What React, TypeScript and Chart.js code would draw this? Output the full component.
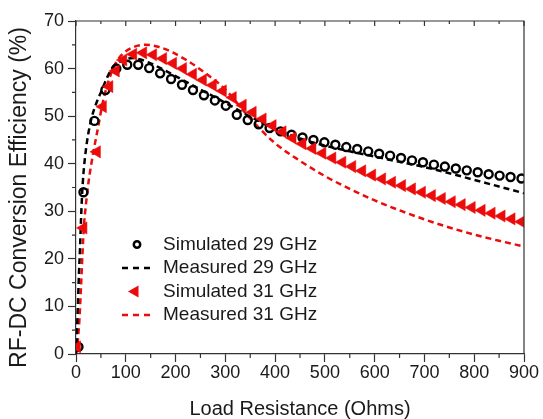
import React, { useEffect, useRef } from 'react';
import { Chart, registerables } from 'chart.js';

Chart.register(...registerables);

// ---- data ----
const sim29X = [5, 15, 37, 59, 81, 103, 125, 147, 169, 191, 213, 235, 257, 279, 301, 323, 345, 367, 389, 411, 433, 455, 477, 499, 521, 543, 565, 587, 609, 631, 653, 675, 697, 719, 741, 763, 785, 807, 829, 851, 873, 895];
const sim29Y = [1.5, 34, 49, 55.5, 60, 60.8, 60.8, 60.1, 59, 57.8, 56.6, 55.5, 54.4, 53.3, 52.2, 50.3, 49.2, 48.3, 47.5, 46.8, 46.1, 45.5, 45, 44.5, 44, 43.5, 43.1, 42.6, 42.1, 41.7, 41.2, 40.7, 40.3, 39.8, 39.4, 39, 38.6, 38.2, 37.8, 37.5, 37.2, 36.9];

const meas29X = [0, 2, 4, 6, 8, 10, 12, 15, 20, 25, 31, 40, 52, 62, 72, 85, 100, 115, 130, 150, 175, 200, 250, 300, 350, 400, 450, 500, 550, 600, 650, 700, 750, 800, 850, 900];
const meas29Y = [0, 5, 11, 17, 22, 28, 33, 38, 43, 46.5, 49.5, 52.5, 55.5, 58, 60, 61.2, 62, 62.2, 61.9, 61.1, 59.8, 58.4, 55.6, 52.8, 49.9, 47.3, 45.3, 43.8, 42.6, 41.5, 40.4, 39.3, 38, 36.6, 35.2, 33.8];

const sim31X = [2, 15, 42, 54, 67, 80, 95, 115, 135, 155, 175, 195, 215, 235, 255, 275, 295, 315, 335, 355, 375, 395, 415, 435, 455, 475, 495, 515, 535, 555, 575, 595, 615, 635, 655, 675, 695, 715, 735, 755, 775, 795, 815, 835, 855, 875, 895];
const sim31Y = [1.5, 26.5, 42.5, 52, 56.2, 59.5, 61.8, 63, 63.3, 62.9, 62.1, 61.1, 60, 58.8, 57.6, 56.5, 55.3, 53.9, 52.3, 50.8, 49.4, 48, 46.7, 45.4, 44.2, 43.2, 42.2, 41.2, 40.3, 39.4, 38.5, 37.6, 36.8, 36.1, 35.4, 34.7, 34, 33.3, 32.7, 32, 31.4, 30.8, 30.2, 29.6, 29, 28.4, 27.8];

const meas31X = [0, 3, 5, 7, 10, 13, 16, 20, 25, 35, 45, 52, 60, 70, 80, 95, 115, 140, 165, 190, 220, 250, 300, 350, 400, 450, 500, 550, 600, 650, 700, 750, 800, 850, 900];
const meas31Y = [0, 2, 4.5, 7.5, 14, 21, 27, 31.5, 36, 42.5, 48, 52, 55.5, 58.8, 61.2, 63.2, 64.5, 65, 64.6, 63.6, 61.9, 59.8, 55.6, 49.5, 44.3, 40.6, 37.4, 34.7, 32.3, 30.2, 28.3, 26.6, 25.1, 23.8, 22.6];

const xTickValues = [0, 100, 200, 300, 400, 500, 600, 700, 800, 900];
const yTickValues = [0, 10, 20, 30, 40, 50, 60, 70];
const legendLabels = ['Simulated 29 GHz', 'Measured 29 GHz', 'Simulated 31 GHz', 'Measured 31 GHz'];
const xTitle = 'Load Resistance (Ohms)';
const yTitle = 'RF-DC Conversion Efficiency (%)';

const RED = '#ec0b0b';
const BLACK = '#000000';
const AXIS = '#333333';
const FONT = '"Liberation Sans", Arial, sans-serif';

const toPts = (xs: number[], ys: number[]) => xs.map((x, i) => ({ x, y: ys[i] }));

const framePlugin = {
  id: 'frame',
  afterDraw(chart: any) {
    const { ctx, chartArea: a, scales } = chart;
    const xs = scales.x;
    const ys = scales.y;
    ctx.save();
    ctx.strokeStyle = AXIS;
    ctx.lineWidth = 1.2;
    ctx.beginPath();
    ctx.moveTo(a.left, a.top);
    ctx.lineTo(a.right, a.top);
    ctx.lineTo(a.right, a.bottom);
    ctx.stroke();
    ctx.beginPath();
    for (let v = 0; v <= 900; v += 50) {
      const px = xs.getPixelForValue(v);
      if (v % 100 !== 0) {
        ctx.moveTo(px, a.bottom);
        ctx.lineTo(px, a.bottom + 4);
      }
      ctx.moveTo(px, a.top);
      ctx.lineTo(px, a.top + (v % 100 === 0 ? 5 : 3));
    }
    for (let v = 5; v < 70; v += 10) {
      const py = ys.getPixelForValue(v);
      ctx.moveTo(a.left, py);
      ctx.lineTo(a.left - 4, py);
    }
    ctx.stroke();

    ctx.fillStyle = '#1a1a1a';
    ctx.font = `23px ${FONT}`;
    ctx.textAlign = 'center';
    ctx.textBaseline = 'middle';
    ctx.translate(20, 197.5);
    ctx.rotate(-Math.PI / 2);
    ctx.fillText(yTitle, 0, 0);
    ctx.restore();

    ctx.save();
    const rows = [244.5, 268, 291.5, 315];
    const mx = 137;
    ctx.font = `19px ${FONT}`;
    ctx.textAlign = 'left';
    ctx.textBaseline = 'middle';
    ctx.fillStyle = '#1a1a1a';
    legendLabels.forEach((t, i) => ctx.fillText(t, 163, rows[i]));
    ctx.strokeStyle = BLACK;
    ctx.lineWidth = 2.5;
    ctx.beginPath();
    ctx.arc(mx, rows[0], 3.2, 0, Math.PI * 2);
    ctx.stroke();
    ctx.setLineDash([6, 5]);
    ctx.lineWidth = 2.5;
    ctx.beginPath();
    ctx.moveTo(122, rows[1]);
    ctx.lineTo(151, rows[1]);
    ctx.stroke();
    ctx.strokeStyle = RED;
    ctx.beginPath();
    ctx.moveTo(122, rows[3]);
    ctx.lineTo(151, rows[3]);
    ctx.stroke();
    ctx.setLineDash([]);
    ctx.fillStyle = RED;
    ctx.beginPath();
    ctx.moveTo(128, rows[2]);
    ctx.lineTo(138.5, rows[2] - 6);
    ctx.lineTo(138.5, rows[2] + 6);
    ctx.closePath();
    ctx.fill();
    ctx.restore();
  },
};

export default function App() {
  const ref = useRef<HTMLCanvasElement | null>(null);
  useEffect(() => {
    document.body.style.margin = '0';
    if (!ref.current) return;
    const chart = new Chart(ref.current, {
      type: 'line',
      data: {
        datasets: [
          {
            label: legendLabels[2],
            data: toPts(sim31X, sim31Y),
            showLine: false,
            pointStyle: 'triangle',
            rotation: -90,
            pointRadius: 7,
            backgroundColor: RED,
            borderColor: RED,
            pointBorderWidth: 0.5,
          },
          {
            label: legendLabels[0],
            data: toPts(sim29X, sim29Y),
            showLine: false,
            pointStyle: 'circle',
            pointRadius: 4,
            pointBorderWidth: 2.4,
            backgroundColor: 'rgba(255,255,255,0)',
            borderColor: BLACK,
          },
          {
            label: legendLabels[1],
            data: toPts(meas29X, meas29Y),
            pointRadius: 0,
            borderColor: BLACK,
            borderWidth: 2.5,
            borderDash: [6, 4],
            cubicInterpolationMode: 'monotone',
            fill: false,
          },
          {
            label: legendLabels[3],
            data: toPts(meas31X, meas31Y),
            pointRadius: 0,
            borderColor: RED,
            borderWidth: 2.5,
            borderDash: [6, 4],
            cubicInterpolationMode: 'monotone',
            fill: false,
          },
        ],
      },
      options: {
        responsive: false,
        animation: false,
        layout: { padding: { top: 21, right: 19, left: 0, bottom: 0 } },
        plugins: { legend: { display: false }, tooltip: { enabled: false } },
        scales: {
          x: {
            type: 'linear',
            min: 0,
            max: 900,
            afterFit: (s: any) => { s.height = 65; },
            afterBuildTicks: (s: any) => { s.ticks = xTickValues.map((v) => ({ value: v })); },
            grid: { drawOnChartArea: false, tickLength: 8, tickColor: AXIS, tickWidth: 1.2 },
            border: { color: AXIS, width: 1.2 },
            ticks: { color: '#1a1a1a', font: { family: FONT, size: 18 }, padding: 0, maxRotation: 0 },
            title: { display: true, text: xTitle, color: '#1a1a1a', font: { family: FONT, size: 20, lineHeight: 1 }, padding: { top: 0, bottom: 0 } },
          },
          y: {
            type: 'linear',
            min: 0,
            max: 70,
            afterFit: (s: any) => { s.width = 76; },
            afterBuildTicks: (s: any) => { s.ticks = yTickValues.map((v) => ({ value: v })); },
            grid: { drawOnChartArea: false, tickLength: 8, tickColor: AXIS, tickWidth: 1.2 },
            border: { color: AXIS, width: 1.2 },
            ticks: { color: '#1a1a1a', font: { family: FONT, size: 18 }, padding: 4 },
          },
        },
      },
      plugins: [framePlugin],
    } as any);
    return () => chart.destroy();
  }, []);
  return (
    <div style={{ width: 543, height: 419 }}>
      <canvas ref={ref} width={543} height={419} />
    </div>
  );
}
